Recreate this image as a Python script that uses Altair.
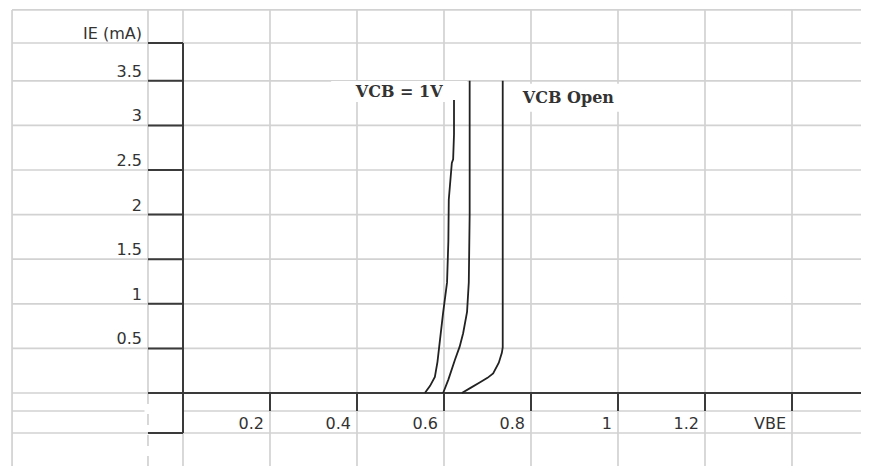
import altair as alt
import pandas as pd

# ---- curve data (VBE in volts, IE in mA) ----
c1_v = [0.556, 0.568, 0.579, 0.585, 0.589, 0.598, 0.607, 0.610, 0.611, 0.618, 0.621, 0.623, 0.623]
c1_i = [0.00, 0.08, 0.18, 0.35, 0.52, 0.90, 1.24, 1.70, 2.17, 2.58, 2.62, 2.90, 3.285]
c2_v = [0.598, 0.610, 0.625, 0.636, 0.644, 0.653, 0.657, 0.659, 0.659]
c2_i = [0.00, 0.15, 0.37, 0.52, 0.67, 0.91, 1.24, 2.00, 3.50]
c3_v = [0.641, 0.662, 0.683, 0.700, 0.713, 0.726, 0.733, 0.735, 0.735]
c3_i = [0.00, 0.06, 0.12, 0.17, 0.22, 0.34, 0.45, 0.51, 3.50]

# ---- axis ticks and labels ----
y_ticks = [0.5, 1, 1.5, 2, 2.5, 3, 3.5]
y_tick_labels = ["0.5", "1", "1.5", "2", "2.5", "3", "3.5"]
x_ticks = [0.2, 0.4, 0.6, 0.8, 1.0, 1.2, 1.4]
x_tick_labels = ["0.2", "0.4", "0.6", "0.8", "1", "1.2", "VBE"]
y_title = "IE (mA)"

# ---- spreadsheet-like grid (in data units) ----
grid_v = [-0.393, -0.0805, 0.0, 0.2, 0.4, 0.6, 0.8, 1.0, 1.2, 1.4]
grid_i = [4.294, 3.924, 3.5, 3.0, 2.5, 2.0, 1.5, 1.0, 0.5, 0.0, -0.2018, -0.4484]

# ---- curve annotations ----
ann_text = ["VCB = 1V", "VCB Open"]
ann_v = [0.497, 0.886]
ann_i = [3.38, 3.31]

W, H = 853, 458
X_DOM = [-0.40230, 1.55862]
Y_DOM = [-0.81839, 4.31614]
xs = alt.Scale(domain=X_DOM, nice=False, zero=False)
ys = alt.Scale(domain=Y_DOM, nice=False, zero=False)

GRID = "#d2d2d2"
DARK = "#3a3a3a"
TXT = "#333333"

top, bottom = grid_i[0], Y_DOM[0]
left, right = grid_v[0], X_DOM[1]
x_axis_start = grid_v[1]
row_below = grid_i[-2]
row_bottom = grid_i[-1]

# vertical grid lines
vg = []
for v in grid_v:
    if v == x_axis_start:
        vg.append({"x": v, "y": top, "y2": 0.0, "dash": "solid"})
        vg.append({"x": v, "y": 0.0, "y2": bottom, "dash": "dashed"})
    else:
        vg.append({"x": v, "y": top, "y2": bottom, "dash": "solid"})
vg = pd.DataFrame(vg)

# horizontal grid lines
hg = []
for i in grid_i:
    if i == row_below:
        hg.append({"y": i, "x": left, "x2": x_axis_start - 0.008})
        hg.append({"y": i, "x": 0.0, "x2": right})
    else:
        hg.append({"y": i, "x": left, "x2": right})
hg = pd.DataFrame(hg)

X = lambda f: alt.X(f, type="quantitative", scale=xs, axis=None)
Y = lambda f: alt.Y(f, type="quantitative", scale=ys, axis=None)

vgrid_solid = alt.Chart(vg[vg.dash == "solid"]).mark_rule(color=GRID, strokeWidth=1.7).encode(
    x=X("x"), y=Y("y"), y2="y2")
vgrid_dash = alt.Chart(vg[vg.dash == "dashed"]).mark_rule(color=GRID, strokeWidth=1.7, strokeDash=[11, 10]).encode(
    x=X("x"), y=Y("y"), y2="y2")
hgrid = alt.Chart(hg).mark_rule(color=GRID, strokeWidth=1.7).encode(
    x=X("x"), x2="x2", y=Y("y"))

# dark axis lines
axes_h = pd.DataFrame(
    [{"y": 0.0, "x": x_axis_start, "x2": right}]
    + [{"y": t, "x": x_axis_start, "x2": 0.0} for t in [grid_i[1]] + y_ticks + [row_bottom]]
)
axes_v = pd.DataFrame(
    [{"x": 0.0, "y": grid_i[1], "y2": row_bottom}]
    + [{"x": t, "y": 0.0, "y2": row_below} for t in x_ticks]
)
ax_h = alt.Chart(axes_h).mark_rule(color=DARK, strokeWidth=2).encode(x=X("x"), x2="x2", y=Y("y"))
ax_v = alt.Chart(axes_v).mark_rule(color=DARK, strokeWidth=2).encode(x=X("x"), y=Y("y"), y2="y2")

# tick labels
ylab = pd.DataFrame({"x": [x_axis_start] * (len(y_ticks) + 1),
                     "y": y_ticks + [grid_i[1]],
                     "t": y_tick_labels + [y_title]})
xlab = pd.DataFrame({"x": x_ticks, "y": [row_bottom] * len(x_ticks), "t": x_tick_labels})
ylab_t = alt.Chart(ylab).mark_text(align="right", baseline="alphabetic", dx=-6, dy=-4,
                                   font="DejaVu Sans", fontSize=16, color=TXT).encode(
    x=X("x"), y=Y("y"), text="t:N")
xlab_t = alt.Chart(xlab).mark_text(align="right", baseline="alphabetic", dx=-6, dy=-4,
                                   font="DejaVu Sans", fontSize=16, color=TXT).encode(
    x=X("x"), y=Y("y"), text="t:N")

# curves
rows = []
for name, vv, ii in [("VCB = 1V", c1_v, c1_i), ("mid", c2_v, c2_i), ("VCB Open", c3_v, c3_i)]:
    for k, (a, b) in enumerate(zip(vv, ii)):
        rows.append({"s": name, "v": a, "i": b, "k": k})
curves = pd.DataFrame(rows)
lines = alt.Chart(curves).mark_line(color="#222222", strokeWidth=1.8).encode(
    x=X("v"), y=Y("i"), detail="s:N", order="k:Q")

# annotations with white backing boxes
ann = pd.DataFrame({"v": ann_v, "i": ann_i, "t": ann_text})
box1 = alt.Chart(ann.iloc[[0]]).mark_rect(color="white", width=136, height=21).encode(
    x=X("v"), y=Y("i"))
box2 = alt.Chart(ann.iloc[[1]]).mark_rect(color="white", width=120, height=28).encode(
    x=X("v"), y=Y("i"))
ann_t = alt.Chart(ann).mark_text(font="DejaVu Serif", fontWeight="bold", fontSize=16,
                                 color=TXT, baseline="middle", align="center").encode(
    x=X("v"), y=Y("i"), text="t:N")

chart = alt.layer(
    vgrid_solid, vgrid_dash, hgrid, box1, box2, ax_h, ax_v, lines, ylab_t, xlab_t, ann_t
).properties(
    width=W, height=H, padding=0, autosize=alt.AutoSizeParams(type="none"),
    background="white"
).configure_view(stroke=None)

chart.save("out.html", embed_options={"renderer": "svg", "actions": False})
